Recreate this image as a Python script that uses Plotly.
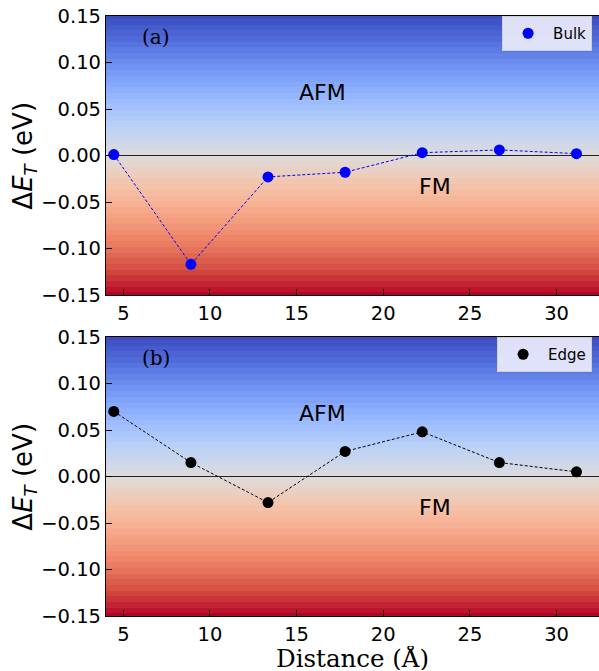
import numpy as np
import plotly.graph_objects as go

# ---- data ----
distance = [4.45, 8.9, 13.35, 17.8, 22.25, 26.7, 31.15]
bulk = [0.001, -0.117, -0.023, -0.018, 0.003, 0.006, 0.002]
edge = [0.070, 0.015, -0.028, 0.027, 0.048, 0.015, 0.005]
yticks = [-0.15, -0.10, -0.05, 0.00, 0.05, 0.10, 0.15]
xticks = [5, 10, 15, 20, 25, 30]
xrange_ = [4.0, 32.45]
yrange_ = [-0.15, 0.15]

# coolwarm (reversed: low values red, high values blue)
coolwarm = ["#3b4cc0", "#5572df", "#779af7", "#9abbff", "#bcd2f7", "#dddcdc",
            "#f4c5ad", "#f7a889", "#ee8468", "#d65244", "#b40426"]
cscale = [[i / 10, c] for i, c in enumerate(coolwarm[::-1])]

grad_y = np.linspace(-0.15, 0.15, 50)
grad_z = [[v, v] for v in grad_y]

fig = go.Figure()

panels = [("", "", bulk, "blue", "Bulk", "legend", "(a)"),
          ("2", "2", edge, "black", "Edge", "legend2", "(b)")]

for xs, ys, vals, col, name, leg, lab in panels:
    xa = "x" + xs
    ya = "y" + ys
    fig.add_trace(go.Heatmap(x=[-10, 50], y=grad_y, z=grad_z, colorscale=cscale,
                             zmin=-0.15, zmax=0.15, showscale=False, hoverinfo="skip",
                             xaxis=xa, yaxis=ya, zsmooth=False))
    fig.add_trace(go.Scatter(x=xrange_, y=[0, 0], mode="lines",
                             line=dict(color="#222222", width=1.2),
                             showlegend=False, hoverinfo="skip", xaxis=xa, yaxis=ya))
    fig.add_trace(go.Scatter(x=distance, y=vals, mode="lines+markers", name=name,
                             line=dict(color=col, width=1, dash="3px,2px"),
                             marker=dict(color=col, size=11), showlegend=False,
                             xaxis=xa, yaxis=ya))
    # legend entry (marker only)
    fig.add_trace(go.Scatter(x=[None], y=[None], mode="markers", name=name,
                             marker=dict(color=col, size=11),
                             xaxis=xa, yaxis=ya, legend=leg))
    fig.add_annotation(x=6.86, y=0.127, xref=xa, yref=ya,
                       text=lab, showarrow=False,
                       font=dict(family="DejaVu Serif", size=20, color="black"))
    fig.add_annotation(x=16.5, y=0.068, xref=xa, yref=ya, text="AFM", showarrow=False,
                       font=dict(family="DejaVu Sans", size=22, color="black"))
    fig.add_annotation(x=23.0, y=-0.033, xref=xa, yref=ya, text="FM", showarrow=False,
                       font=dict(family="DejaVu Sans", size=22, color="black"))
    # y-axis title
    fig.add_annotation(x=-0.166, y=0.5, xref="paper", yref=ya + " domain",
                       text="Δ<i>E</i><sub><i>T</i></sub> (eV)", textangle=-90,
                       showarrow=False, xanchor="center", yanchor="middle",
                       font=dict(family="DejaVu Sans", size=26, color="black"))

# x-axis title
fig.add_annotation(x=0.5, y=-0.0692, xref="paper", yref="paper", text="Distance (Å)",
                   showarrow=False, xanchor="center", yanchor="middle", height=24,
                   borderpad=0,
                   font=dict(family="DejaVu Serif", size=24.5, color="black"))

axis_common = dict(showline=True, linecolor="black", linewidth=1.2, ticks="inside",
                   ticklen=6, tickwidth=1.2, tickcolor="black", showgrid=False,
                   zeroline=False, tickfont=dict(family="DejaVu Sans", size=19.5, color="black"))

xax = dict(range=xrange_, tickvals=xticks, mirror=True, **axis_common)
yax = dict(range=yrange_, tickvals=yticks, tickformat=".2f", **axis_common)

leg_common = dict(xanchor="right", yanchor="top", itemwidth=40,
                  bgcolor="rgba(238,240,252,0.9)", bordercolor="#cfcfcf", borderwidth=1,
                  font=dict(family="DejaVu Sans", size=15, color="black"))

fig.update_layout(
    width=599, height=671,
    margin=dict(l=106, r=0, t=16, b=55),
    plot_bgcolor="white", paper_bgcolor="white",
    xaxis=dict(domain=[0, 1], anchor="y", **xax),
    yaxis=dict(domain=[0.535, 1], anchor="x", **yax),
    xaxis2=dict(domain=[0, 1], anchor="y2", **xax),
    yaxis2=dict(domain=[0, 0.465], anchor="x2", **yax),
    legend=dict(x=0.986, y=1.0, **leg_common),
    legend2=dict(x=0.986, y=0.465, **leg_common),
)

fig.write_html("out.html")
